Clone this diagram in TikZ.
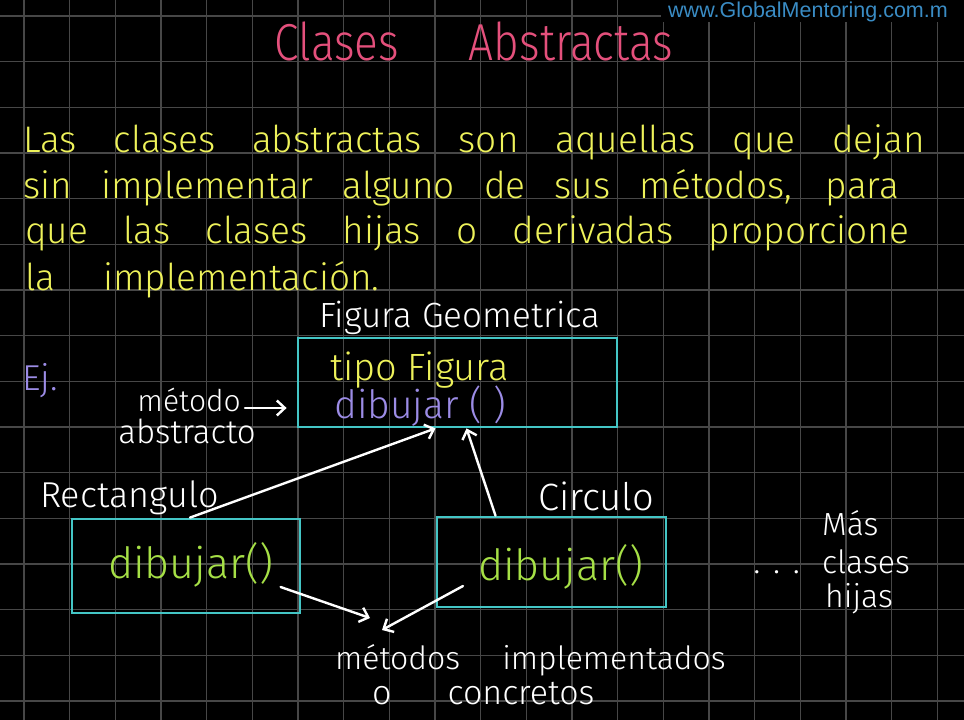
\documentclass[tikz,border=0pt]{standalone}
\usepackage{fontspec}
\setmainfont{Fira Sans Light}
\newfontfamily\handfont{Fira Sans Light}
\newfontfamily\titlefont{Fira Sans Light}[FakeStretch=0.85]
\newfontfamily\webfont{Liberation Sans}
\usetikzlibrary{arrows.meta}
\definecolor{board}{HTML}{000000}
\definecolor{gridgray}{HTML}{474747}
\definecolor{chalkpink}{HTML}{E4507C}
\definecolor{chalkyellow}{HTML}{EEF25A}
\definecolor{chalkcyan}{HTML}{44C6C6}
\definecolor{chalkpurple}{HTML}{9C8CE6}
\definecolor{chalkgreen}{HTML}{A6E046}
\definecolor{webblue}{HTML}{3A8CC4}
\tikzset{
  txt/.style={inner sep=0pt, anchor=base west},
  titletxt/.style={txt, text=chalkpink, font=\titlefont\fontsize{52}{60}\selectfont},
  para/.style={txt, text=chalkyellow, font=\handfont\fontsize{37}{42}\selectfont},
  chalk/.style={txt, text=white, font=\handfont\fontsize{34}{38}\selectfont},
  codetxt/.style={txt, text=chalkgreen, font=\handfont\fontsize{43}{46}\selectfont},
  classbox/.style={draw=chalkcyan, line width=2.8pt, inner sep=0pt},
  arrowline/.style={draw=white, line width=2.4pt, line cap=round, -{Straight Barb[length=8pt,width=15pt]}},
  gridline/.style={draw=gridgray, line width=1.2pt},
}
\begin{document}
\begin{tikzpicture}[x=1pt,y=-1pt]
  \clip (0,0) rectangle (964,720);
  \fill[board] (0,0) rectangle (964,720);
  \foreach \i in {0,...,20}
    \draw[gridline] ({24+45.67*\i},0) -- ({24+45.67*\i},720);
  \foreach \j in {0,...,15}
    \draw[gridline] (0,{16+45.67*\j}) -- (964,{16+45.67*\j});
  \fill[board] (661,0) rectangle (964,22);
  \node[txt, text=webblue, font=\webfont\fontsize{21.5}{24}\selectfont] (web) at (668,17) {www.GlobalMentoring.com.m};

  \node[titletxt, anchor=base] (title) at (474,60) {Clases\hspace{70pt}Abstractas};

  \node[para] (defA) at (23,152) {\makebox[902pt][s]{Las clases abstractas son aquellas que dejan}};
  \node[para] (defB) at (23,198) {\makebox[876pt][s]{sin implementar alguno de sus métodos, para}};
  \node[para] (defC) at (25,243) {\makebox[884pt][s]{que las clases hijas o derivadas proporcione}};
  \node[para] (defD) at (25,290) {la\hspace{48pt}implementación.};

  \node[chalk, text=chalkpurple, font=\handfont\fontsize{36}{40}\selectfont] (ej) at (22,390) {Ej.};

  \node[classbox, minimum width=319pt, minimum height=89pt] (fig) at (457.5,382.5) {};
  \node[chalk, font=\handfont\fontsize{35}{40}\selectfont] (figname) at (319,327) {Figura Geometrica};
  \node[para, font=\handfont\fontsize{38}{42}\selectfont] (tipo) at (330,380) {tipo Figura};
  \node[para, text=chalkpurple, font=\handfont\fontsize{39}{42}\selectfont] (dibA) at (334,418) {dibujar ( )};
  \node[chalk, anchor=base east, font=\handfont\fontsize{30}{34}\selectfont] (metodo) at (241,411) {método};
  \node[chalk, anchor=base east, font=\handfont\fontsize{33}{36}\selectfont] (abstr) at (256,443) {abstracto};

  \node[classbox, minimum width=228pt, minimum height=94pt] (rect) at (186,566) {};
  \node[chalk, font=\handfont\fontsize{36}{40}\selectfont] (rectname) at (40,507) {Rectangulo};
  \node[codetxt] (dibR) at (108,578) {dibujar()};

  \node[classbox, minimum width=229pt, minimum height=90pt] (circ) at (551.5,562) {};
  \node[chalk, font=\handfont\fontsize{38}{42}\selectfont] (circname) at (538,510) {Circulo};
  \node[codetxt] (dibC) at (478,580) {dibujar()};

  \node[chalk, anchor=base east] (dots) at (800,573) {. . .};
  \node[chalk, font=\handfont\fontsize{32}{36}\selectfont] (mas) at (822,535) {Más};
  \node[chalk, font=\handfont\fontsize{32}{36}\selectfont] (clases) at (822,573) {clases};
  \node[chalk, font=\handfont\fontsize{32}{36}\selectfont] (hijas) at (825,607) {hijas};

  \node[chalk, font=\handfont\fontsize{32}{36}\selectfont] (impl) at (335,669) {métodos\hspace{42pt}implementados};
  \node[chalk, font=\handfont\fontsize{34}{38}\selectfont] (concr) at (372,704) {o\hspace{56pt}concretos};

  \coordinate (tipR) at (370,618);
  \coordinate (tipC) at (382,630);

  \draw[arrowline, shorten <=4pt] ([yshift=3pt]metodo.base east) -- ([xshift=-10pt,yshift=3pt]fig.west |- metodo.base east);
  \draw[arrowline] ([xshift=4pt]rect.north) -- ([xshift=-22pt]fig.south);
  \draw[arrowline] ([xshift=-56pt]circ.north) -- ([xshift=9pt]fig.south);
  \draw[arrowline] ([shift={(7pt,-9pt)}]dibR.base east) -- (tipR);
  \draw[arrowline] ([shift={(-15pt,-6pt)}]dibC.base west) -- (tipC);
\end{tikzpicture}
\end{document}
